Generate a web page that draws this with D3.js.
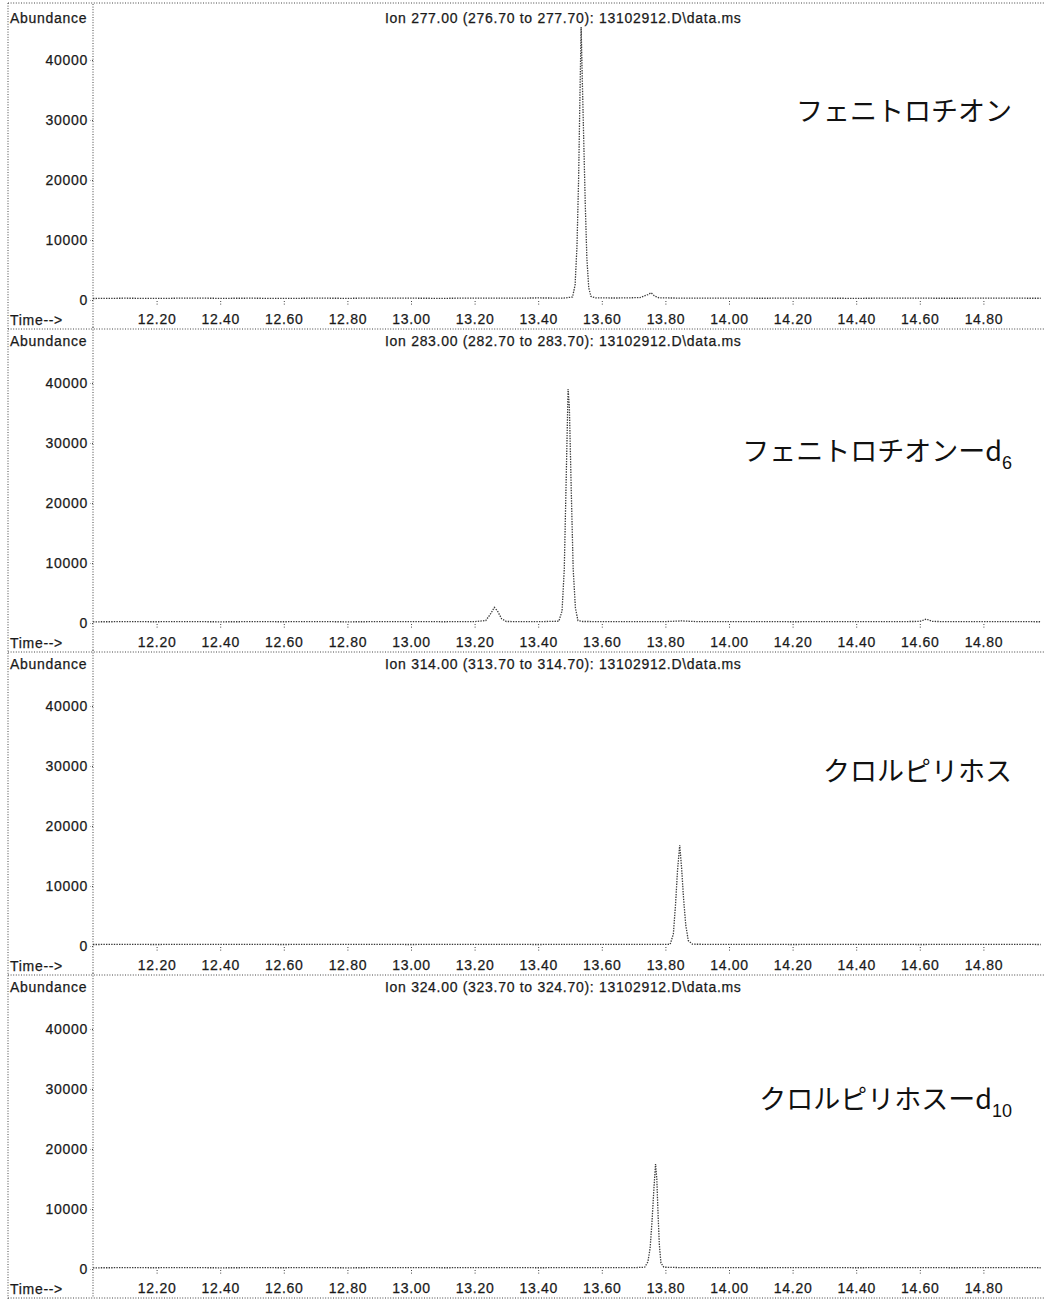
<!DOCTYPE html>
<html>
<head>
<meta charset="utf-8">
<script src="https://cdn.jsdelivr.net/npm/d3@7"></script>
<style>
    body { margin: 0; background: #fff; }
    svg text { font-family: "Liberation Sans", Arial, sans-serif; fill: #1a1a1a; }
    svg text.small { font-size: 14px; letter-spacing: 0.7px; stroke: #1a1a1a; stroke-width: 0.25px; }
    svg text.compound { font-family: "Noto Sans CJK JP", sans-serif; fill: #111; font-size: 27px; }
    .dots { fill: none; stroke: #444; stroke-width: 1; stroke-dasharray: 1, 1.6; }
    .trace { fill: none; stroke: #3a3a3a; stroke-width: 1.3; stroke-dasharray: 1.4, 1.2; }
</style>
</head>
<body>
<svg id="chart" width="1044" height="1300"></svg>
<script>

// ---- data ----
const timeTicks = [12.20, 12.40, 12.60, 12.80, 13.00, 13.20, 13.40, 13.60, 13.80, 14.00, 14.20, 14.40, 14.60, 14.80];
const abundanceTicks = [0, 10000, 20000, 30000, 40000];

const ionTitles = [
    'Ion 277.00 (276.70 to 277.70): 13102912.D\\data.ms',
    'Ion 283.00 (282.70 to 283.70): 13102912.D\\data.ms',
    'Ion 314.00 (313.70 to 314.70): 13102912.D\\data.ms',
    'Ion 324.00 (323.70 to 324.70): 13102912.D\\data.ms'
];
const compoundNames = ['フェニトロチオン', 'フェニトロチオンーd', 'クロルピリホス', 'クロルピリホスーd'];
const compoundSubscripts = ['', '6', '', '10'];

// [time (min), abundance]
const ion277 = [
    [12.00, 250], [12.10, 300], [12.20, 260], [12.30, 320], [12.40, 280], [12.50, 300],
    [12.60, 260], [12.70, 310], [12.80, 280], [12.90, 330], [13.00, 300], [13.10, 280],
    [13.20, 320], [13.30, 300], [13.40, 340], [13.48, 320], [13.508, 500], [13.516, 2500],
    [13.522, 9000], [13.527, 20000], [13.531, 33000], [13.535, 45500], [13.539, 36000],
    [13.543, 27000], [13.548, 16000], [13.553, 7000], [13.559, 2000], [13.566, 600],
    [13.58, 350], [13.65, 330], [13.72, 400], [13.745, 900], [13.755, 1200], [13.765, 700],
    [13.78, 350], [13.90, 300], [14.00, 320], [14.10, 290], [14.20, 310], [14.30, 300],
    [14.40, 280], [14.50, 310], [14.60, 300], [14.70, 290], [14.80, 310], [14.90, 300], [14.98, 290]
];

const ion283 = [
    [12.00, 200], [12.10, 220], [12.20, 210], [12.30, 230], [12.40, 200], [12.50, 220],
    [12.60, 210], [12.70, 230], [12.80, 200], [12.90, 220], [13.00, 230], [13.10, 210],
    [13.20, 230], [13.235, 400], [13.25, 1500], [13.262, 2600], [13.272, 2000], [13.285, 700],
    [13.30, 250], [13.40, 220], [13.465, 300], [13.475, 2000], [13.482, 9000], [13.488, 24000],
    [13.494, 39000], [13.498, 36000], [13.504, 22000], [13.510, 9000], [13.517, 2500],
    [13.525, 400], [13.54, 250], [13.60, 240], [13.70, 220], [13.80, 230], [13.85, 350],
    [13.90, 230], [14.00, 220], [14.10, 230], [14.20, 210], [14.30, 220], [14.40, 230],
    [14.50, 220], [14.60, 260], [14.62, 650], [14.64, 260], [14.70, 220], [14.80, 230],
    [14.90, 220], [14.98, 210]
];

const ion314 = [
    [12.00, 250], [12.10, 270], [12.20, 250], [12.30, 280], [12.40, 260], [12.50, 270],
    [12.60, 250], [12.70, 280], [12.80, 260], [12.90, 270], [13.00, 250], [13.10, 280],
    [13.20, 260], [13.30, 270], [13.40, 250], [13.50, 280], [13.60, 260], [13.70, 270],
    [13.80, 260], [13.815, 300], [13.825, 2000], [13.832, 7000], [13.838, 12500],
    [13.845, 16800], [13.851, 13000], [13.857, 8000], [13.864, 3500], [13.872, 900],
    [13.885, 300], [13.95, 270], [14.00, 260], [14.10, 280], [14.20, 250], [14.30, 270],
    [14.40, 260], [14.50, 280], [14.60, 250], [14.70, 270], [14.80, 260], [14.90, 270], [14.98, 250]
];

const ion324 = [
    [12.00, 200], [12.10, 220], [12.20, 210], [12.30, 230], [12.40, 200], [12.50, 220],
    [12.60, 210], [12.70, 230], [12.80, 200], [12.90, 220], [13.00, 230], [13.10, 210],
    [13.20, 220], [13.30, 230], [13.40, 210], [13.50, 220], [13.60, 230], [13.70, 220],
    [13.735, 300], [13.745, 1200], [13.752, 3500], [13.758, 8000], [13.764, 13500],
    [13.769, 17500], [13.773, 15000], [13.777, 9000], [13.781, 4000], [13.786, 1000],
    [13.795, 300], [13.85, 230], [13.90, 220], [14.00, 230], [14.10, 210], [14.20, 220],
    [14.30, 230], [14.40, 210], [14.50, 220], [14.60, 230], [14.70, 210], [14.80, 220],
    [14.90, 230], [14.98, 210]
];

const traces = [ion277, ion283, ion314, ion324];

// ---- layout ----
const width = 1044;
const panelStep = 323;
const panelTop0 = 8;
const axisX = 93;
const labelOffsets = [113, 130, 127, 132];

const svg = d3.select('#chart');

const xScale = d3.scaleLinear()
    .domain([12.0, 15.0])
    .range([axisX, axisX + 954]);

// outer frame
svg.append('line').attr('class', 'dots')
    .attr('x1', 8).attr('x2', width).attr('y1', 3).attr('y2', 3);
svg.append('line').attr('class', 'dots')
    .attr('x1', 8).attr('x2', 8).attr('y1', 3).attr('y2', 1300);

traces.forEach((trace, i) => {

    const top = panelTop0 + i * panelStep;
    const g = svg.append('g');

    const yScale = d3.scaleLinear()
        .domain([0, 40000])
        .range([top + 292, top + 52]);

    // header
    g.append('text')
        .attr('class', 'small')
        .attr('x', 10).attr('y', top + 15)
        .text('Abundance');

    g.append('text')
        .attr('class', 'small')
        .attr('x', 385).attr('y', top + 15)
        .text(ionTitles[i]);

    // y axis line spanning the panel
    g.append('line').attr('class', 'dots')
        .attr('x1', axisX).attr('x2', axisX)
        .attr('y1', top - 4).attr('y2', top + 320);

    const yAxis = d3.axisLeft(yScale)
        .tickValues(abundanceTicks)
        .tickFormat(d3.format('d'))
        .tickSize(3);

    const yg = g.append('g')
        .attr('transform', `translate(${axisX},0)`)
        .call(yAxis);
    yg.select('.domain').remove();
    yg.selectAll('line').attr('class', 'dots');
    yg.selectAll('text')
        .attr('class', 'small')
        .attr('x', -5)
        .attr('fill', null)
        .attr('font-family', null)
        .attr('font-size', null);

    // x axis ticks and labels
    const xAxis = d3.axisBottom(xScale)
        .tickValues(timeTicks)
        .tickFormat(d3.format('.2f'))
        .tickSize(4)
        .tickPadding(9);

    const xg = g.append('g')
        .attr('transform', `translate(0,${top + 293})`)
        .attr('font-family', null)
        .attr('font-size', null)
        .call(xAxis);
    xg.select('.domain').remove();
    xg.selectAll('line').attr('class', 'dots');
    xg.selectAll('text')
        .attr('class', 'small')
        .attr('fill', null);

    g.append('text')
        .attr('class', 'small')
        .attr('x', 10).attr('y', top + 317)
        .text('Time-->');

    // separator under the time row
    g.append('line').attr('class', 'dots')
        .attr('x1', 8).attr('x2', width)
        .attr('y1', top + 321).attr('y2', top + 321);

    // trace
    const line = d3.line()
        .x((d) => xScale(d[0]))
        .y((d) => yScale(d[1]));

    g.append('path')
        .datum(trace)
        .attr('class', 'trace')
        .attr('d', line);

    // compound name
    const label = g.append('text')
        .attr('class', 'compound')
        .attr('x', 1012)
        .attr('y', top + labelOffsets[i])
        .attr('text-anchor', 'end');

    label.append('tspan').text(compoundNames[i]);

    if (compoundSubscripts[i]) {
        label.append('tspan')
            .attr('dy', 8)
            .style('font-size', '18px')
            .style('font-family', '"Liberation Sans", Arial, sans-serif')
            .text(compoundSubscripts[i]);
    }

});

</script>
</body>
</html>
